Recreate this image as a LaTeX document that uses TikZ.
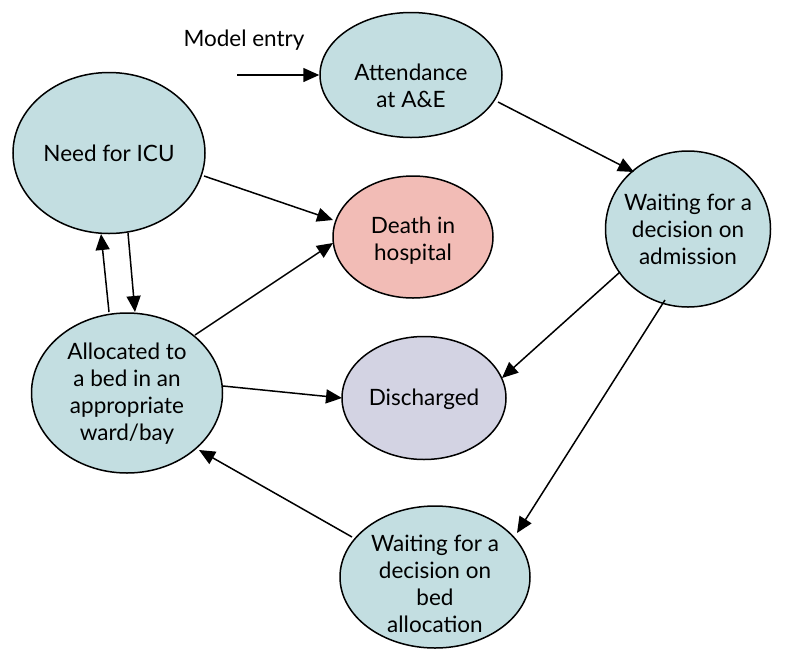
\documentclass[tikz,border=0pt]{standalone}
\usepackage{fontspec}
\setmainfont{Lato}
\usetikzlibrary{arrows.meta,shapes.geometric}
\definecolor{stfill}{HTML}{C3DEE1}
\definecolor{deathfill}{HTML}{F2BCB6}
\definecolor{discfill}{HTML}{D3D3E3}
\begin{document}
\begin{tikzpicture}[x=1pt,y=-1pt,
  st/.style={draw=black,line width=1.5pt,fill=stfill,shape=ellipse,inner sep=0pt},
  txt/.style={align=center,inner sep=0pt,font=\fontsize{22.5}{27}\selectfont},
  arr/.style={draw=black,line width=1.5pt,-{Triangle[length=16pt,width=14pt]}},
  lbl/.style={font=\fontsize{22.5}{27}\selectfont}]
\useasboundingbox (0,0) rectangle (787,654);
\node[st,minimum width=182pt,minimum height=125pt,label={[txt,yshift=-11pt]center:Attendance\\at A\&E}] (ae) at (411,75) {};
\node[st,minimum width=192pt,minimum height=161pt,label={[txt]center:Need for ICU}] (icu) at (109,153) {};
\node[st,minimum width=160pt,minimum height=122pt,fill=deathfill,label={[txt,yshift=-4pt]center:Death in\\hospital}] (death) at (413,237) {};
\node[st,minimum width=165pt,minimum height=156pt,label={[txt]center:Waiting for a\\decision on\\admission}] (wadm) at (688,229) {};
\node[st,minimum width=191pt,minimum height=160pt,label={[txt,yshift=-1pt]center:Allocated to\\a bed in an\\appropriate\\ward/bay}] (alloc) at (127,393) {};
\node[st,minimum width=164pt,minimum height=123pt,fill=discfill,label={[txt,yshift=-1pt]center:Discharged}] (disc) at (424,398) {};
\node[st,minimum width=190pt,minimum height=142pt,label={[txt,yshift=-7pt]center:Waiting for a\\decision on\\bed\\allocation}] (wbed) at (435,577) {};
\node[lbl] (entry) at (244,40) {Model entry};
\coordinate (start) at (237,75);
\draw[arr] (start) -- (ae.west |- start);
\draw[arr] (498,102) -- (634,172);
\draw[arr] (204,176) -- (333,220);
\draw[arr] (195,335) -- (333,243);
\draw[arr] (620,272) -- (502,378);
\draw[arr] (665,300) -- (517,533);
\draw[arr] (223,386) -- (342,398);
\draw[arr] (352,537) -- (199,450);
\draw[arr] (109,312) -- (101,234);
\draw[arr] (128,233) -- (135,312);
\end{tikzpicture}
\end{document}
